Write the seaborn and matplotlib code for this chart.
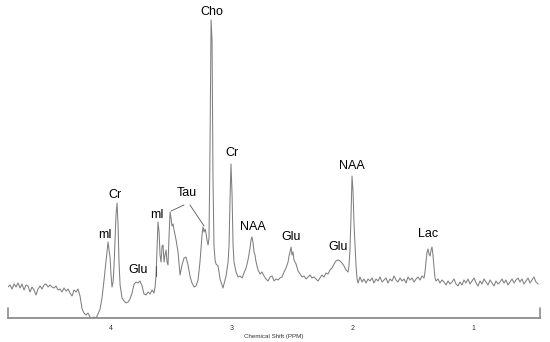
import matplotlib
matplotlib.use("Agg")
import matplotlib.pyplot as plt
import seaborn as sns
import pandas as pd

# Chemical shift (ppm) and signal intensity (a.u.)
ppm = [4.854, 4.837, 4.820, 4.804, 4.787, 4.771, 4.754, 4.738, 4.721, 4.704,
       4.688, 4.671, 4.655, 4.638, 4.622, 4.605, 4.588, 4.572, 4.555, 4.539,
       4.522, 4.506, 4.489, 4.472, 4.456, 4.439, 4.423, 4.406, 4.390, 4.373,
       4.356, 4.340, 4.323, 4.307, 4.290, 4.274, 4.257, 4.249, 4.240, 4.224,
       4.207, 4.191, 4.174, 4.158, 4.141, 4.124, 4.108, 4.091, 4.075, 4.058,
       4.042, 4.025, 4.008, 4.000, 3.992, 3.983, 3.975, 3.967, 3.959, 3.950,
       3.942, 3.934, 3.925, 3.909, 3.892, 3.876, 3.859, 3.843, 3.826, 3.809,
       3.793, 3.776, 3.760, 3.743, 3.727, 3.710, 3.693, 3.677, 3.660, 3.644,
       3.635, 3.627, 3.619, 3.611, 3.602, 3.594, 3.586, 3.577, 3.569, 3.561,
       3.553, 3.544, 3.536, 3.528, 3.519, 3.511, 3.503, 3.495, 3.486, 3.478,
       3.461, 3.445, 3.428, 3.412, 3.395, 3.379, 3.362, 3.346, 3.329, 3.312,
       3.296, 3.279, 3.263, 3.246, 3.238, 3.229, 3.221, 3.213, 3.205, 3.196,
       3.188, 3.180, 3.171, 3.163, 3.155, 3.147, 3.138, 3.130, 3.113, 3.105,
       3.097, 3.080, 3.072, 3.064, 3.047, 3.030, 3.022, 3.014, 3.006, 2.997,
       2.989, 2.981, 2.964, 2.948, 2.931, 2.914, 2.898, 2.881, 2.865, 2.848,
       2.840, 2.832, 2.823, 2.815, 2.807, 2.798, 2.782, 2.765, 2.749, 2.732,
       2.716, 2.699, 2.682, 2.666, 2.649, 2.633, 2.616, 2.600, 2.583, 2.566,
       2.550, 2.533, 2.525, 2.517, 2.508, 2.500, 2.492, 2.484, 2.475, 2.467,
       2.450, 2.434, 2.417, 2.401, 2.384, 2.368, 2.351, 2.334, 2.318, 2.301,
       2.285, 2.268, 2.252, 2.235, 2.218, 2.202, 2.185, 2.169, 2.152, 2.136,
       2.119, 2.102, 2.086, 2.069, 2.053, 2.036, 2.028, 2.020, 2.011, 2.003,
       1.995, 1.986, 1.978, 1.970, 1.962, 1.953, 1.937, 1.920, 1.904, 1.887,
       1.870, 1.854, 1.837, 1.821, 1.804, 1.787, 1.771, 1.754, 1.738, 1.721,
       1.705, 1.688, 1.671, 1.655, 1.638, 1.622, 1.605, 1.588, 1.572, 1.555,
       1.539, 1.522, 1.506, 1.489, 1.472, 1.456, 1.439, 1.423, 1.406, 1.398,
       1.390, 1.381, 1.373, 1.365, 1.356, 1.348, 1.340, 1.332, 1.323, 1.315,
       1.307, 1.290, 1.274, 1.257, 1.240, 1.224, 1.207, 1.191, 1.174, 1.158,
       1.141, 1.124, 1.108, 1.091, 1.075, 1.058, 1.042, 1.025, 1.008, 0.992,
       0.975, 0.959, 0.942, 0.926, 0.909, 0.892, 0.876, 0.859, 0.843, 0.826,
       0.810, 0.793, 0.776, 0.760, 0.743, 0.727, 0.710, 0.694, 0.677, 0.660,
       0.644, 0.627, 0.611, 0.594, 0.578, 0.561, 0.544, 0.528, 0.511, 0.495,
       0.478, 0.461]

intensity = [31, 33, 29, 34, 31, 35, 30, 34, 28, 33,
             32, 26, 31, 28, 23, 29, 32, 29, 33, 34,
             31, 33, 31, 30, 32, 28, 29, 26, 30, 27,
             29, 25, 22, 28, 26, 29, 22, 16, 9, 5,
             3, 5, 1, 0, 1, 0, 4, 9, 20, 38,
             56, 76, 60, 43, 31, 36, 53, 78, 103, 115,
             93, 56, 33, 20, 17, 15, 16, 19, 25, 34,
             36, 35, 37, 32, 24, 23, 26, 24, 28, 25,
             31, 43, 68, 96, 86, 63, 56, 72, 73, 56,
             63, 68, 56, 53, 83, 106, 100, 92, 94, 88,
             78, 66, 43, 53, 60, 61, 53, 42, 35, 31,
             32, 38, 56, 83, 91, 86, 89, 85, 78, 73,
             80, 168, 298, 278, 138, 73, 58, 54, 52, 46,
             39, 33, 30, 34, 42, 56, 73, 118, 154, 123,
             73, 56, 46, 41, 42, 40, 45, 50, 58, 70,
             78, 81, 75, 66, 63, 56, 48, 44, 46, 42,
             39, 37, 41, 42, 37, 39, 38, 40, 41, 46,
             50, 56, 62, 66, 71, 63, 66, 58, 56, 54,
             47, 44, 41, 42, 39, 41, 43, 40, 41, 39,
             37, 40, 43, 41, 45, 44, 48, 50, 54, 57,
             58, 57, 55, 52, 48, 46, 52, 68, 103, 142,
             128, 93, 73, 53, 40, 35, 41, 36, 39, 35,
             39, 37, 40, 35, 39, 37, 41, 36, 38, 40,
             35, 39, 37, 42, 38, 36, 40, 37, 39, 35,
             41, 38, 40, 36, 39, 41, 38, 42, 40, 46,
             56, 66, 69, 64, 62, 68, 71, 63, 50, 40,
             37, 39, 35, 38, 36, 33, 37, 34, 36, 39,
             34, 32, 36, 33, 38, 35, 39, 34, 37, 40,
             35, 32, 37, 34, 39, 36, 33, 38, 35, 32,
             37, 34, 36, 39, 35, 38, 33, 36, 39, 35,
             38, 40, 36, 39, 34, 37, 40, 35, 38, 41,
             36, 34]

peak_names = ["Cho", "Cr", "mI", "Glu", "mI", "Tau", "Cr", "NAA", "Glu", "Glu", "NAA", "Lac"]
peak_label_ppm = [3.163, 3.967, 4.050, 3.776, 3.619, 3.370, 2.997, 2.823, 2.508, 2.119, 2.003, 1.373]
peak_label_height = [306, 123, 83, 48, 103, 125, 165, 91, 81, 71, 152, 84]

tick_values = [4, 3, 2, 1]
tick_labels = ["4", "3", "2", "1"]
ppm_range = (4.854, 0.445)

sns.set_style("white")
plt.rcParams["font.family"] = ["Liberation Sans", "DejaVu Sans"]

fig = plt.figure(figsize=(5.5, 3.42), dpi=100)
ax = fig.add_axes([8 / 550, 24 / 342, 532 / 550, 318 / 342])

df = pd.DataFrame({"ppm": ppm, "intensity": intensity})
sns.lineplot(data=df, x="ppm", y="intensity", ax=ax, color="#7f7f7f",
             linewidth=0.75, estimator=None, sort=False)

ax.set_xlim(*ppm_range)
ax.set_ylim(0, 318)

for s in ["left", "right", "top"]:
    ax.spines[s].set_visible(False)
ax.spines["bottom"].set_color("#8c8c8c")
ax.spines["bottom"].set_linewidth(1.3)

ax.set_yticks([])
ax.set_ylabel("")
ax.set_xticks(tick_values)
ax.set_xticklabels(tick_labels)
ax.tick_params(axis="x", which="major", direction="out", length=3, width=0.8,
               color="#8c8c8c", labelsize=5, pad=2, labelcolor="#333333")
ax.set_xlabel("Chemical Shift (PPM)", fontsize=4.5, labelpad=1.5, color="#333333")

# end-of-scale ticks pointing up
for edge in ppm_range:
    ax.axvline(edge, ymin=0, ymax=10 / 318, color="#8c8c8c", linewidth=1.2,
               clip_on=False)

for name, px, h in zip(peak_names, peak_label_ppm, peak_label_height):
    ax.text(px, h, name, ha="center", va="center", fontsize=9, color="black")

# leader lines for Tau and Glu labels
ax.plot([3.395, 3.503], [113, 107], color="#555555", linewidth=0.6)
ax.plot([3.346, 3.229], [113, 92], color="#555555", linewidth=0.6)
ax.plot([3.627, 3.627], [52, 42], color="#555555", linewidth=0.8)

fig.savefig("out.png", dpi=100)
